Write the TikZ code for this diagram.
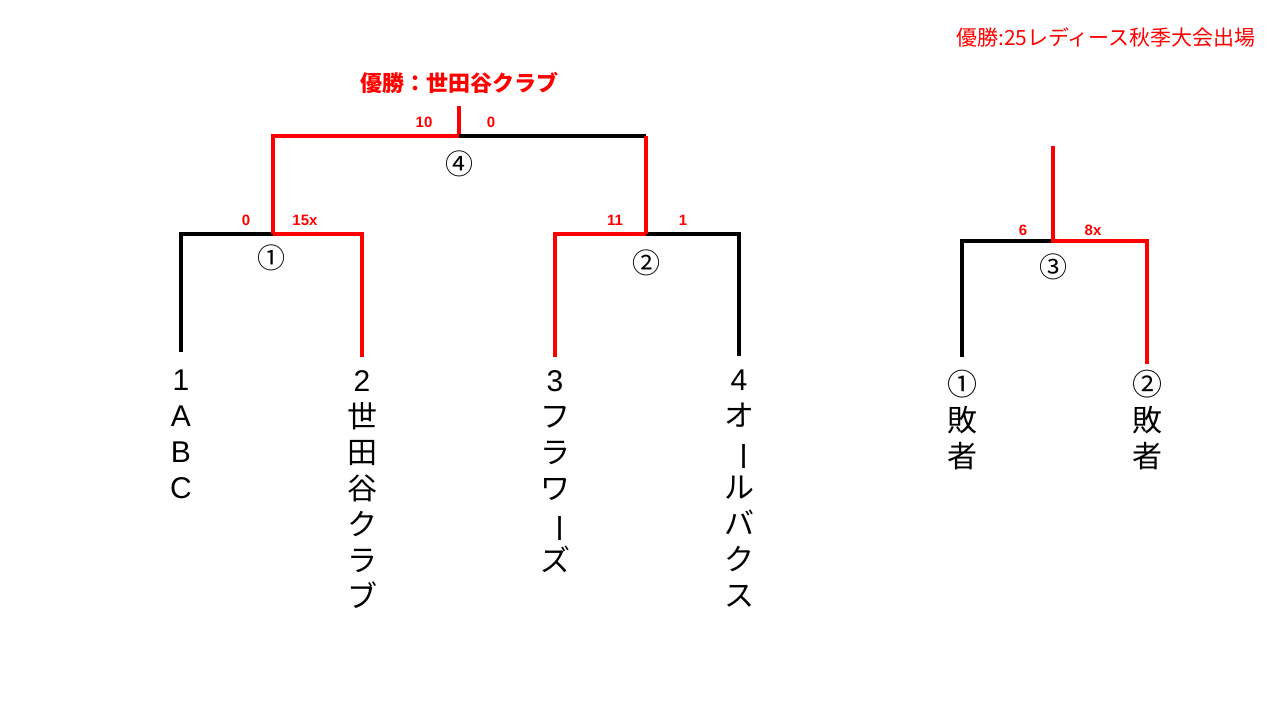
\documentclass[tikz,border=0pt]{standalone}
\usepackage{fontspec}
\setmainfont{Noto Sans CJK JP}
\newfontfamily\arl{Liberation Sans}
\begin{document}
\begin{tikzpicture}[x=1pt,y=-1pt,
 bk/.style={line width=3.5pt,black},
 rd/.style={line width=3.5pt,red},
 sc/.style={text=red,font=\arl\bfseries\fontsize{15}{15}\selectfont,inner sep=0},
 cn/.style={font=\fontsize{28}{28}\selectfont,inner sep=0},
 tm/.style={font=\fontsize{30}{36}\selectfont,align=center,anchor=north,inner sep=0}]
\useasboundingbox (0,0) rectangle (1280,720);
% bracket 1
\coordinate (a1) at (181,352); \coordinate (a2) at (181,234);
\coordinate (m1) at (273,234); \coordinate (b2) at (362,234); \coordinate (b1) at (362,357);
\draw[bk] (a1)--(a2)--(m1);
\draw[rd] (b1)--(b2)--(m1);
% bracket 2
\coordinate (c1) at (555,357); \coordinate (c2) at (555,234);
\coordinate (m2) at (646,234); \coordinate (d2) at (739,234); \coordinate (d1) at (739,356);
\draw[bk] (d1)--(d2)--(m2);
\draw[rd] (c1)--(c2)--(m2);
% final
\coordinate (t1) at (273,136); \coordinate (tm) at (459,136); \coordinate (t2) at (646,136); \coordinate (tt) at (459,106);
\draw[rd] (m1)--(t1)--(tm)--(tt);
\draw[bk] (tm)--(t2);
\draw[rd] (t2)--(m2);
% bracket 3
\coordinate (e1) at (962,357); \coordinate (e2) at (962,241); \coordinate (m3) at (1053,241);
\coordinate (f2) at (1147,241); \coordinate (f1) at (1147,364); \coordinate (ft) at (1053,146);
\draw[bk] (e1)--(e2)--(m3);
\draw[rd] (ft)--(m3)--(f2)--(f1);
% texts
\node[text=red,anchor=east,font=\fontsize{21}{21}\selectfont,inner sep=0] (ttl) at (1256,37) {優勝:25レディース秋季大会出場};
\node[text=red,font=\bfseries\fontsize{22}{22}\selectfont,inner sep=0] (win) at (459,83) {優勝：世田谷クラブ};
\node[sc] (s1) at (424,122) {10};
\node[sc] (s2) at (491,122) {0};
\node[sc] (s3) at (246,220) {0};
\node[sc] (s4) at (305,220) {15x};
\node[sc] (s5) at (615,220) {11};
\node[sc] (s6) at (683,220) {1};
\node[sc] (s7) at (1023,230) {6};
\node[sc] (s8) at (1093,230) {8x};
\node[cn] (g4) at (459,164) {④};
\node[cn] (g1) at (271,258) {①};
\node[cn] (g2) at (646,263) {②};
\node[cn] (g3) at (1053,267) {③};
\newcommand\vbar{\rotatebox[origin=c]{-90}{ー}}
\node[tm] (n1) at (181,370) {\arl 1\\\arl A\\\arl B\\\arl C};
\node[tm] (n2) at (362,370) {\arl 2\\世\\田\\谷\\ク\\ラ\\ブ};
\node[tm] (n3) at (555,370) {\arl 3\\フ\\ラ\\ワ\\\vbar\\ズ};
\node[tm] (n4) at (739,370) {\arl 4\\オ\\\vbar\\ル\\バ\\ク\\ス};
\node[tm] (n5) at (962,370) {①\\敗\\者};
\node[tm] (n6) at (1147,370) {②\\敗\\者};
\end{tikzpicture}
\end{document}
